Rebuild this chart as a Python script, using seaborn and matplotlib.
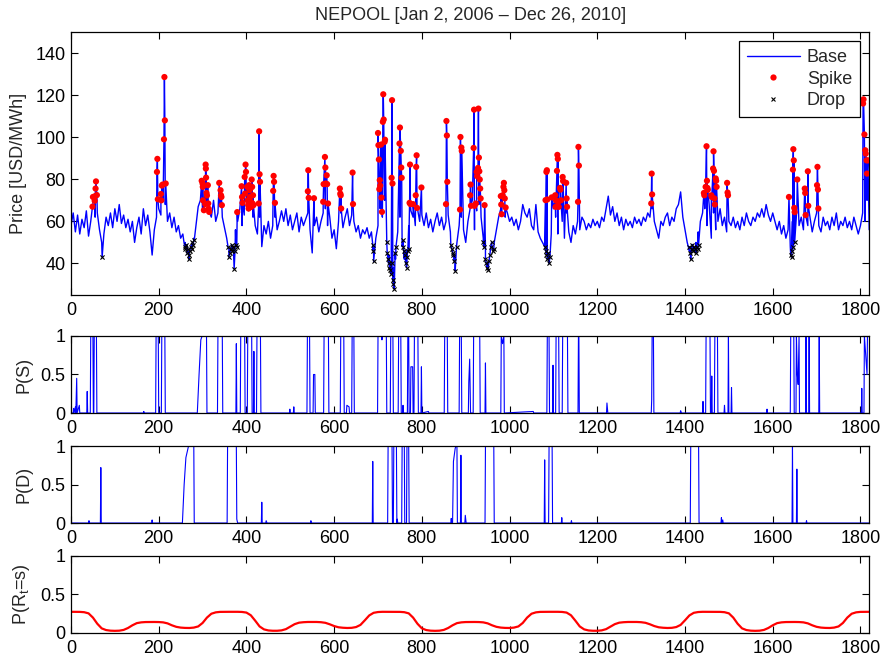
import numpy as np
import pandas as pd
import matplotlib
matplotlib.use("Agg")
import matplotlib.pyplot as plt
import seaborn as sns
from matplotlib.lines import Line2D

# ---------------- data ----------------
title = "NEPOOL [Jan 2, 2006 \u2013 Dec 26, 2010]"
x_ticks = [0, 200, 400, 600, 800, 1000, 1200, 1400, 1600, 1800]

# base price, one value every 5 days (days 0..1820)
base_step = 5
base_vals = [
    58, 64, 55, 63, 54, 61, 57, 65, 53, 60, 66, 62, 64, 56, 50, 54, 62, 58, 64, 57,
    66, 60, 68, 59, 63, 57, 61, 55, 60, 50, 57, 62, 54, 66, 58, 63, 55, 44, 56, 62,
    66, 63, 70, 68, 60, 64, 57, 62, 55, 58, 52, 54, 50, 48, 46, 49, 52, 58, 67, 70,
    66, 72, 68, 65, 62, 70, 60, 64, 67, 62, 57, 52, 47, 46, 48, 56, 60, 66, 58, 63,
    70, 65, 68, 62, 58, 54, 62, 48, 58, 54, 60, 52, 58, 62, 56, 60, 65, 60, 66, 58,
    63, 56, 60, 64, 55, 62, 58, 61, 64, 56, 45, 58, 62, 55, 60, 64, 66, 58, 62, 52,
    56, 47, 60, 64, 57, 62, 66, 58, 63, 60, 55, 58, 52, 56, 54, 57, 52, 55, 48, 52,
    58, 66, 62, 70, 50, 44, 40, 38, 42, 55, 62, 48, 42, 46, 58, 65, 62, 58, 66, 60,
    63, 58, 64, 57, 61, 55, 60, 64, 58, 62, 56, 60, 63, 55, 46, 44, 50, 58, 62, 56,
    50, 60, 66, 70, 56, 65, 68, 62, 52, 48, 40, 44, 48, 50, 56, 62, 66, 70, 62, 64,
    60, 62, 58, 61, 56, 60, 68, 64, 62, 66, 58, 56, 68, 55, 52, 50, 48, 56, 44, 54,
    66, 62, 54, 68, 60, 52, 64, 55, 50, 58, 54, 60, 56, 62, 60, 56, 59, 57, 61, 58,
    60, 57, 62, 60, 66, 72, 63, 67, 60, 64, 58, 62, 56, 61, 58, 60, 57, 62, 59, 61,
    58, 62, 60, 64, 62, 66, 60, 56, 52, 60, 58, 62, 64, 58, 62, 60, 66, 68, 74, 62,
    56, 50, 46, 47, 46, 50, 55, 60, 64, 66, 58, 68, 52, 64, 56, 60, 66, 58, 62, 55,
    60, 58, 62, 57, 60, 56, 62, 58, 64, 60, 58, 62, 60, 64, 62, 66, 62, 68, 63, 60,
    64, 60, 56, 60, 54, 58, 52, 56, 48, 60, 55, 66, 58, 62, 56, 64, 58, 62, 55, 60,
    64, 58, 55, 62, 58, 60, 56, 62, 58, 64, 56, 60, 58, 62, 57, 60, 56, 62, 58, 54,
    58, 64, 60, 70, 56,
]
base_days = list(range(0, base_step * len(base_vals), base_step))

spike_days = [
    49, 50, 54, 55, 56, 57, 59,
    196, 197, 198, 205, 206, 207, 209, 212, 213, 214, 216,
    298, 300, 300.5, 301, 303, 306, 307, 307.5, 308, 309, 310, 312, 313, 314, 315,
    338, 341, 342, 343, 344,
    379, 389, 390, 391, 396, 397, 398, 399, 402, 403, 404, 405, 406, 407, 408, 409,
    410, 411, 412, 413, 414, 415, 416, 428, 429, 430, 431,
    461, 462, 463, 465,
    540, 541, 542, 554,
    575, 576, 579, 580, 581, 583, 584, 586,
    613, 614, 615, 616, 642, 643,
    700, 701, 702, 703, 704, 705, 707, 708, 709, 711, 712, 713, 715, 716,
    731, 732, 733,
    749, 750, 752, 753, 754,
    772, 773, 774, 780, 786, 787, 788, 789, 799,
    855, 856, 857, 858,
    887, 888, 890, 891,
    910, 911, 912, 918, 919, 920, 923, 925, 926, 928, 929, 930, 931, 932, 933, 934, 943,
    980, 981, 982, 984, 986, 987, 988, 989, 991,
    1082, 1084, 1085, 1086, 1096, 1104, 1105, 1106, 1108, 1109, 1110, 1111, 1112,
    1115, 1116, 1117, 1121, 1122, 1129, 1130, 1131,
    1156, 1157, 1158,
    1323, 1324, 1325,
    1443, 1444, 1447, 1449, 1450, 1451, 1452, 1460, 1461, 1464, 1465, 1466, 1467,
    1468, 1470, 1471, 1472,
    1496, 1497, 1498,
    1637, 1646, 1647, 1648, 1649, 1650, 1656,
    1673, 1674, 1675, 1680, 1681, 1701, 1702, 1703, 1704,
    1806, 1807, 1809, 1811, 1812, 1814, 1815, 1817,
]
spike_vals = [
    67, 71.6, 69.8, 72, 75.6, 79, 72.5,
    83.5, 89.7, 70.5, 73, 70, 77, 77.5, 99, 128.6, 108, 78,
    79.3, 78, 76.4, 70, 65.3, 68.2, 87, 85.1, 80.8, 73.5, 72.3, 77.2, 68.5, 66, 64.5,
    78.3, 74.8, 72.4, 71.6, 67.7,
    64.4, 76.7, 71.6, 68.8, 81.1, 73.2, 87, 83.5, 76.4, 70, 67.7, 66.1, 77.2, 74.8, 71.6, 75.6,
    69.3, 66.9, 79.9, 76.4, 68.5, 72.4, 67.7, 68.5, 102.8, 82.4, 78.8,
    74.5, 81.6, 78.8, 68.8,
    74.3, 84.3, 71.2, 71,
    69.3, 77.7, 90.6, 85.6, 78, 81.9, 77.7, 68.5,
    75.6, 73.2, 72.4, 66.1, 83.2, 68.2,
    102, 96.2, 89.4, 75.3, 79.6, 77, 96.5, 71.3, 64.5, 107.3, 120.4, 108.4, 97.8, 98.8,
    80.7, 117.6, 78,
    97, 104.6, 93.5, 85.6, 80.7,
    68.8, 87, 68.2, 68.2, 72.4, 85.9, 91.4, 66.4, 76.1,
    68.2, 107.7, 100.8, 78.8,
    65.6, 100.1, 95.1, 93.5,
    72.4, 77.5, 67.4, 94.9, 113.1, 67.4, 68.5, 83.5, 81.5, 85.4, 113.6, 90.3, 83.8, 79.9, 75.6, 70.9, 67.7,
    72, 68, 63.4, 72.4, 76.4, 78.3, 74.8, 70.9, 66.6,
    70.1, 83.5, 84.3, 70.4, 71.4, 72.4, 66.9, 69.9, 84, 91.6, 89.7, 69.3, 66.9,
    75.9, 75.1, 70, 81.1, 79.2, 78.3, 70.9, 66.9,
    69.3, 95.4, 86.5,
    68.5, 82.7, 72.8,
    73.5, 72.4, 76.4, 95.7, 79.3, 75.9, 75, 72.4, 71.6, 85.1, 93.3, 84, 70.9,
    68, 80.4, 79.3, 76.4,
    78.3, 73.7, 72.4,
    71.6, 84.6, 94.3, 89, 66.4, 64.4, 79.9,
    75.6, 73.5, 63, 83.8, 67.4, 77.2, 85.9, 75.1, 66.1,
    116, 118, 101.3, 93.8, 92.2, 89, 82.7, 89,
]

drop_days = [
    71,
    259, 261, 263, 264, 266, 268, 269, 271, 273, 275, 277, 279, 281,
    358, 360, 362, 364, 366, 368, 370, 372, 374, 376, 378,
    688, 689, 690,
    720, 721, 723, 724, 726, 728, 730, 732, 734, 735, 737, 739, 741,
    757, 758, 760, 762, 763, 765, 766, 768, 770,
    866, 868, 870, 872, 874, 876, 879,
    940, 942, 945, 947, 949, 951, 953, 955, 957, 959, 962, 964,
    1080, 1082, 1084, 1086, 1088, 1090, 1092,
    1410, 1412, 1413, 1415, 1417, 1419, 1421, 1423, 1425, 1427, 1429, 1431,
    1641, 1643, 1645, 1647, 1650,
]
drop_vals = [
    43,
    48, 47, 49, 45, 47, 44, 42, 46, 48, 47, 50, 49, 51,
    48, 43, 45, 47, 49, 46, 48, 37.5, 46, 49, 48,
    49, 46, 41,
    50, 45, 42, 40, 38, 37, 35, 40, 32, 30, 28, 45, 48,
    51, 48, 46, 44, 40, 38, 43, 46, 47,
    49, 47, 45, 44, 41, 36.5, 48,
    50, 48, 42, 40, 38, 37, 41, 44, 48, 50, 46, 47,
    48, 46, 44, 42, 45, 40, 43,
    48, 45, 42, 47, 49, 46, 48, 47, 45, 48, 47, 49,
    44, 43, 46, 48, 50,
]

# P(S): breakpoints (day, probability)
ps_days = [0, 5, 6, 7, 10, 11, 13, 14, 19, 20, 36, 37, 38, 44, 45, 50, 51, 52, 53, 58, 59,
           165, 166, 167, 193, 194, 199, 200, 206, 207, 214, 215, 288, 292, 296, 299, 309, 310,
           334, 335, 345, 346, 376, 377, 378, 386, 387, 396, 397, 402, 403, 412, 413, 416, 417,
           418, 423, 424, 432, 433, 498, 499, 500, 507, 508, 509, 538, 539, 544, 545, 552, 553,
           556, 557, 576, 577, 587, 588, 614, 615, 622, 623, 628, 629, 634, 635, 640, 641, 645,
           646, 699, 700, 708, 709, 710, 719, 720, 728, 729, 734, 735, 746, 747, 752, 753, 756,
           757, 758, 767, 768, 770, 771, 774, 775, 779, 780, 782, 783, 791, 792, 798, 799, 800,
           815, 816, 851, 852, 858, 859, 885, 886, 890, 891, 906, 907, 909, 911, 917, 918, 932,
           933, 944, 945, 946, 980, 981, 984, 987, 988, 1054, 1055, 1085, 1086, 1090, 1091, 1098,
           1099, 1100, 1105, 1106, 1112, 1113, 1120, 1121, 1132, 1133, 1156, 1157, 1158, 1159,
           1221, 1222, 1224, 1323, 1324, 1325, 1328, 1329, 1389, 1390, 1392, 1440, 1441, 1442,
           1447, 1448, 1457, 1458, 1460, 1461, 1462, 1467, 1468, 1474, 1475, 1489, 1490, 1491,
           1498, 1499, 1500, 1505, 1506, 1507, 1586, 1587, 1588, 1640, 1641, 1648, 1649, 1653,
           1654, 1656, 1658, 1660, 1661, 1675, 1676, 1677, 1682, 1683, 1684, 1705, 1706, 1707,
           1802, 1803, 1804, 1808, 1809, 1815, 1816, 1822]
ps_vals = [0, 0, 0.06, 0, 0.08, 0, 0.45, 0, 0.1, 0, 0, 0.28, 0, 0, 1, 1, 0, 0, 1, 1, 0,
           0, 0.02, 0, 0, 1, 1, 0, 0, 1, 1, 0, 0, 0.5, 0.95, 1, 1, 0,
           0, 1, 1, 0, 0, 0.9, 0, 0, 1, 1, 0, 0, 1, 1, 0, 0, 0.8,
           0, 0, 1, 1, 0, 0, 0.05, 0, 0, 0.08, 0, 0, 1, 1, 0, 0, 0.5,
           0.5, 0, 0, 1, 1, 0, 0, 1, 1, 0, 0, 0.1, 0.08, 0, 0, 1, 1,
           0, 0, 1, 1, 0.95, 1, 1, 0, 0, 1, 1, 0, 0, 1, 1, 0, 0,
           0.1, 0, 0, 1, 1, 0, 0, 0.6, 0.6, 0, 0, 1, 1, 0, 0, 0.6, 0,
           0.02, 0, 0, 1, 1, 0, 0, 1, 1, 0, 0, 0.4, 0.7, 0, 0, 1, 1,
           0, 0, 0.65, 0, 0, 1, 0.9, 1, 0, 0.02, 0, 0, 1, 1, 0, 0,
           0.62, 0, 0, 1, 1, 0, 0, 1, 1, 0, 0, 1, 1, 0,
           0, 0.13, 0, 0, 0.17, 1, 1, 0, 0, 0.03, 0, 0, 0.15, 0,
           0, 1, 1, 0, 0, 0.48, 0, 0, 1, 1, 0, 0, 0.1, 0,
           0, 1, 0, 0, 0.33, 0, 0, 0.05, 0, 0, 1, 1, 0, 0,
           1, 0.5, 0.37, 1, 0, 0, 1, 0, 0, 1, 0, 0, 1, 0,
           0, 0.32, 0, 0, 1, 0.5, 1, 1]

# P(D): breakpoints (day, probability)
pd_days = [0, 40, 41, 42, 67, 68, 69, 184, 185, 186, 254, 258, 262, 266, 268, 280, 281,
           356, 357, 377, 378, 380, 434, 435, 436, 444, 445, 447, 546, 547, 548, 687, 688, 689,
           722, 723, 732, 733, 735, 736, 742, 743, 744, 745, 754, 755, 760, 761, 765, 766, 770,
           771, 866, 867, 868, 870, 872, 876, 878, 880, 881, 888, 889, 890, 898, 899, 901,
           944, 945, 964, 965, 1079, 1080, 1081, 1089, 1090, 1097, 1098, 1118, 1119, 1120,
           1140, 1141, 1142, 1412, 1413, 1431, 1432, 1482, 1483, 1484, 1486, 1487, 1644, 1645,
           1646, 1654, 1655, 1656, 1676, 1677, 1678, 1822]
pd_vals = [0, 0, 0.03, 0, 0, 0.72, 0, 0, 0.04, 0, 0, 0.5, 0.85, 0.95, 1, 1, 0,
           0, 1, 1, 0.05, 0, 0, 0.27, 0, 0, 0.03, 0, 0, 0.03, 0, 0, 0.8, 0,
           0, 1, 1, 0, 0, 1, 1, 0, 0.05, 0, 0, 1, 1, 0, 0, 1, 1,
           0, 0, 0.06, 0, 0, 0.8, 0.97, 1, 1, 0, 0, 0.88, 0, 0, 0.1, 0,
           0, 1, 1, 0, 0, 0.82, 0, 0, 1, 1, 0, 0, 0.07, 0,
           0, 0.03, 0, 0, 1, 1, 0, 0, 0.07, 0, 0.04, 0, 0, 1,
           0, 0, 0.7, 0, 0, 0.03, 0, 0]

# P(R_t = s): one value every 10 days (days 0..1820)
pr_step = 10
pr_vals = [
    0.275, 0.275, 0.274, 0.27, 0.255, 0.2, 0.12, 0.06, 0.038, 0.03, 0.028, 0.03, 0.04,
    0.065, 0.1, 0.128, 0.138, 0.142, 0.143, 0.143, 0.142, 0.138, 0.125, 0.1, 0.08, 0.07,
    0.066, 0.065, 0.07, 0.085, 0.13, 0.2, 0.25, 0.268, 0.274, 0.275, 0.275,
    0.275, 0.275, 0.273, 0.265, 0.23, 0.16, 0.085, 0.047, 0.033, 0.029, 0.029, 0.034,
    0.05, 0.082, 0.115, 0.134, 0.14, 0.143, 0.143, 0.143, 0.14, 0.132, 0.113, 0.09, 0.074,
    0.068, 0.065, 0.067, 0.077, 0.105, 0.165, 0.228, 0.262, 0.272, 0.275, 0.275,
    0.275, 0.275, 0.274, 0.27, 0.255, 0.2, 0.12, 0.06, 0.038, 0.03, 0.028, 0.03, 0.04,
    0.065, 0.1, 0.128, 0.138, 0.142, 0.143, 0.143, 0.142, 0.138, 0.125, 0.1, 0.08, 0.07,
    0.066, 0.065, 0.07, 0.085, 0.13, 0.2, 0.25, 0.268, 0.274, 0.275, 0.275,
    0.275, 0.275, 0.273, 0.265, 0.23, 0.16, 0.085, 0.047, 0.033, 0.029, 0.029, 0.034,
    0.05, 0.082, 0.115, 0.134, 0.14, 0.143, 0.143, 0.143, 0.14, 0.132, 0.113, 0.09, 0.074,
    0.068, 0.065, 0.067, 0.077, 0.105, 0.165, 0.228, 0.262, 0.272, 0.275, 0.275,
    0.275, 0.275, 0.274, 0.27, 0.255, 0.2, 0.12, 0.06, 0.038, 0.03, 0.028, 0.03, 0.04,
    0.065, 0.1, 0.128, 0.138, 0.142, 0.143, 0.143, 0.142, 0.138, 0.125, 0.1, 0.08, 0.07,
    0.066, 0.065, 0.07, 0.085, 0.13, 0.2, 0.25, 0.268, 0.274, 0.275, 0.275,
]
pr_days = list(range(0, pr_step * len(pr_vals), pr_step))

# ---------------- styling ----------------
sns.set_style("ticks")
plt.rcParams['font.family'] = ['Liberation Sans', 'DejaVu Sans']
plt.rcParams['mathtext.fontset'] = 'custom'
plt.rcParams['mathtext.rm'] = 'Liberation Sans'
plt.rcParams['mathtext.it'] = 'Liberation Sans'
FS = 13

fig = plt.figure(figsize=(8.83, 6.64), dpi=100)
fig.patch.set_facecolor('white')
L, W = 0.0804, 0.904
ax0 = fig.add_axes([L, 0.5557, W, 0.3961])
ax1 = fig.add_axes([L, 0.378, W, 0.116])
ax2 = fig.add_axes([L, 0.2123, W, 0.116])
ax3 = fig.add_axes([L, 0.0467, W, 0.116])

# price line (base merged with spike/drop observations)
price = pd.DataFrame({
    'day': base_days + spike_days + drop_days,
    'price': base_vals + spike_vals + drop_vals,
}).sort_values('day', kind='mergesort')
sns.lineplot(data=price, x='day', y='price', ax=ax0, color='blue', lw=1.0,
             estimator=None, sort=False)
sns.scatterplot(x=spike_days, y=spike_vals, ax=ax0, color='red', s=20,
                edgecolor='none', zorder=3)
sns.scatterplot(x=drop_days, y=drop_vals, ax=ax0, color='black', marker='x',
                s=9, linewidth=0.8, zorder=3)

sns.lineplot(x=ps_days, y=ps_vals, ax=ax1, color='blue', lw=0.8, estimator=None, sort=False)
sns.lineplot(x=pd_days, y=pd_vals, ax=ax2, color='blue', lw=0.8, estimator=None, sort=False)
sns.lineplot(x=pr_days, y=pr_vals, ax=ax3, color='red', lw=1.6, estimator=None, sort=False)

for ax in (ax0, ax1, ax2, ax3):
    ax.set_xlim(0, 1820)
    ax.set_xticks(x_ticks)
    ax.set_xticklabels([str(t) for t in x_ticks])
    ax.tick_params(direction='in', top=True, right=True, length=5, width=0.8,
                   labelsize=FS, colors='black', pad=4)
    ax.tick_params(axis='x', pad=5)
    for sp in ax.spines.values():
        sp.set_visible(True)
        sp.set_color('black')
        sp.set_linewidth(0.9)
    ax.set_xlabel('')
    ax.set_facecolor('white')

ax0.set_ylim(25, 150)
ax0.set_yticks([40, 60, 80, 100, 120, 140])
ax0.set_ylabel('Price [USD/MWh]', fontsize=FS, labelpad=6)
ax0.set_title(title, fontsize=FS, pad=8.5)

for ax, lab in ((ax1, 'P(S)'), (ax2, 'P(D)'), (ax3, r'P(R$_\mathregular{t}$=s)')):
    ax.set_ylim(0, 1)
    ax.set_yticks([0, 0.5, 1])
    ax.set_yticklabels(['0', '0.5', '1'])
    ax.set_ylabel(lab, fontsize=FS, labelpad=6)

handles = [
    Line2D([], [], color='blue', lw=1.0, label='Base'),
    Line2D([], [], color='red', marker='o', ls='none', ms=4.5, mec='none', label='Spike'),
    Line2D([], [], color='black', marker='x', ls='none', ms=3, mew=0.8, label='Drop'),
]
leg = ax0.legend(handles=handles, loc='upper right', fontsize=FS, frameon=True,
                 fancybox=False, edgecolor='black', framealpha=1, borderaxespad=0.5,
                 handlelength=2.9, handletextpad=0.4, labelspacing=0.25, borderpad=0.45)
leg.get_frame().set_linewidth(0.9)

fig.savefig('out.png', dpi=100, facecolor='white')
